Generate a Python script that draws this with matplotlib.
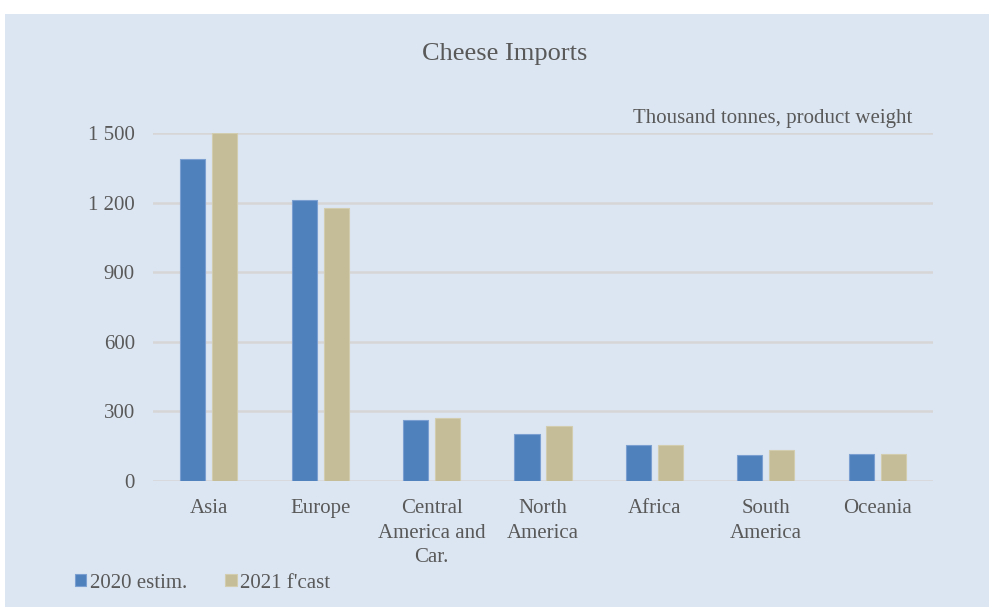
import numpy as np
import matplotlib.pyplot as plt
from matplotlib.patches import Rectangle

plt.rcParams['font.family'] = ['Liberation Serif', 'DejaVu Serif']

# data
regions = ['Asia', 'Europe', 'Central\nAmerica and\nCar.', 'North\nAmerica',
           'Africa', 'South\nAmerica', 'Oceania']
estim_2020 = [1390, 1213, 261, 203, 156, 113, 115]
fcast_2021 = [1500, 1175, 272, 236, 155, 134, 117]
yticks = [0, 300, 600, 900, 1200, 1500]
ytick_labels = ['0', '300', '600', '900', '1 200', '1 500']

blue = '#4F81BD'
tan = '#C4BD97'
bg = '#DCE6F2'
txt = '#595959'

fig = plt.figure(figsize=(9.89, 6.07), dpi=100)
fig.patch.set_facecolor('white')
# light blue chart area (white strip on top and left)
fig.patches.append(Rectangle((5/989, 0), 1, 1 - 14/607, transform=fig.transFigure,
                             facecolor=bg, edgecolor='none', zorder=-1))

ax = fig.add_axes([153/989, 126/607, (933-153)/989, (481-133)/607])
ax.set_facecolor('none')

x = np.arange(len(regions))
w = 0.225
ax.bar(x - 0.1435, estim_2020, w, color=blue, edgecolor='#7A9FD0', linewidth=0.8,
       label='2020 estim.', zorder=3)
ax.bar(x + 0.1435, fcast_2021, w, color=tan, edgecolor='#D3CDAF', linewidth=0.8,
       label="2021 f'cast", zorder=3)

ax.set_xlim(-0.5, len(regions) - 0.5)
ax.set_ylim(0, 1500)
ax.set_yticks(yticks)
ax.set_yticklabels(ytick_labels)
ax.set_xticks(x)
ax.set_xticklabels(regions, linespacing=1.4)
ax.tick_params(axis='both', length=0, labelsize=15, colors=txt)
ax.tick_params(axis='y', pad=13)
ax.tick_params(axis='x', pad=13)
for s in ax.spines.values():
    s.set_visible(False)
ax.yaxis.grid(True, color='#D6D6D6', linewidth=1.8, zorder=0)
ax.set_axisbelow(True)

fig.text(505/989, 1 - 54/607, 'Cheese Imports', ha='center', va='center',
         fontsize=19, color=txt)
fig.text(912/989, 1 - 118/607, 'Thousand tonnes, product weight', ha='right',
         va='center', fontsize=15, color=txt)

fig.legend(loc='center left', bbox_to_anchor=(75/989, 1 - 583/607), ncol=2,
           frameon=False, fontsize=15, handlelength=0.55, handleheight=0.55,
           handletextpad=0.15, columnspacing=1.85, labelcolor=txt,
           borderaxespad=0, borderpad=0)

fig.savefig('out.png', dpi=100, facecolor=fig.get_facecolor())
